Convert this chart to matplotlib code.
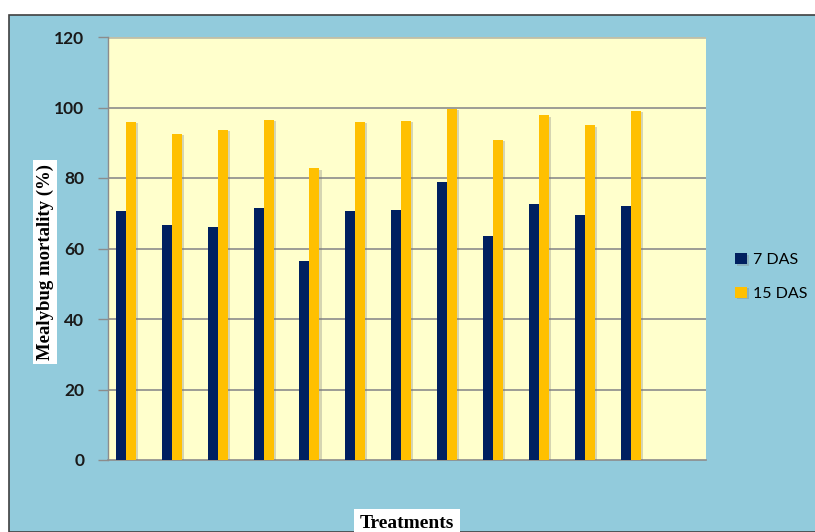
import matplotlib
matplotlib.use("Agg")
import matplotlib.pyplot as plt
import matplotlib.patches as mpatches
import matplotlib.patheffects as pe
import numpy as np

treatments = [f"T{i}" for i in range(1, 13)]
das7 = [70.7, 66.6, 66.1, 71.5, 56.5, 70.7, 70.9, 79.0, 63.5, 72.5, 69.4, 72.0]
das15 = [95.9, 92.6, 93.6, 96.5, 82.8, 95.9, 96.2, 99.6, 90.8, 97.8, 94.9, 99.0]
yticks = [0, 20, 40, 60, 80, 100, 120]

W, H = 815, 532
fig = plt.figure(figsize=(W / 100, H / 100), dpi=100)
fig.patch.set_facecolor("white")

# chart frame (light blue panel with dark border)
frame = mpatches.Rectangle((9 / W, 0), 1.0, 1 - 15 / H, transform=fig.transFigure,
                           facecolor="#92CBDC", edgecolor="#404040", linewidth=1.2,
                           zorder=-10)
fig.patches.append(frame)

ax = fig.add_axes([108 / W, 1 - 460 / H, (706 - 108) / W, (460 - 37) / H])
ax.set_zorder(1)
ax.set_facecolor("#FFFFCC")

x = np.arange(len(treatments))
w = 0.218
shadow = [pe.SimplePatchShadow(offset=(1.5, -1), shadow_rgbFace="#777777", alpha=0.3),
          pe.Normal()]
b1 = ax.bar(x - w / 2, das7, width=w, color="#002060", label="7 DAS", zorder=3,
            path_effects=shadow)
b2 = ax.bar(x + w / 2, das15, width=w, color="#FFC000", label="15 DAS", zorder=3,
            path_effects=shadow)

ax.set_xlim(-0.39, 12.64)
ax.set_ylim(0, 120)
ax.set_yticks(yticks)
ax.set_xticks([])
for v in yticks[1:-1]:
    ax.axhline(v, color="#8C8C8C", linewidth=1.2, zorder=1)
ax.axhline(120, color="#C0C0A8", linewidth=2.0, zorder=1)

for s in ["top", "right"]:
    ax.spines[s].set_visible(False)
ax.spines["left"].set_color("#8C8C8C")
ax.spines["bottom"].set_color("#8C8C8C")
ax.spines["left"].set_linewidth(1.0)
ax.spines["bottom"].set_linewidth(1.2)
ax.tick_params(axis="y", direction="out", length=7, width=1.0, color="#8C8C8C",
               pad=10, labelsize=12.5)
for lbl in ax.get_yticklabels():
    lbl.set_fontfamily("Lato")
    lbl.set_fontweight("bold")
    lbl.set_color("#1a1a1a")

fig.text(45 / W, 1 - 262 / H, "Mealybug mortality (%)", rotation=90,
         ha="center", va="center", fontsize=13.5, fontweight="bold",
         family="Liberation Serif",
         bbox=dict(facecolor="white", edgecolor="none", pad=2.5))
fig.text(407 / W, 1 - 523 / H, "Treatments", ha="center", va="center",
         fontsize=14, fontweight="bold", family="Liberation Serif",
         bbox=dict(facecolor="white", edgecolor="none", pad=4))

leg = fig.legend(handles=[b1, b2], labels=["7 DAS", "15 DAS"],
                 loc="center left", bbox_to_anchor=(721 / W, 1 - 277 / H),
                 frameon=False, prop={"family": "Lato", "size": 11.5},
                 handlelength=0.7, handleheight=0.7, handletextpad=0.4,
                 labelspacing=1.2)

fig.savefig("out.png", dpi=100, facecolor=fig.get_facecolor())
